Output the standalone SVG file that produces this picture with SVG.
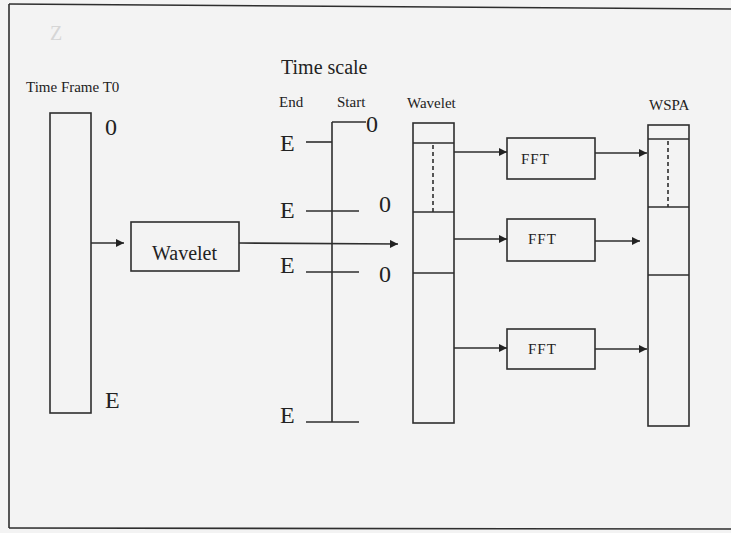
<svg xmlns="http://www.w3.org/2000/svg" width="731" height="533" viewBox="0 0 731 533">
<defs>
<style>
.ln{stroke:#2e2e2e;stroke-width:1.6;fill:none}
.bx{stroke:#2e2e2e;stroke-width:1.6;fill:none}
.dash{stroke:#2e2e2e;stroke-width:1.6;stroke-dasharray:4 3;fill:none}
.t{font-family:"Liberation Serif","Times New Roman",serif;fill:#222}
.s{font-size:15px}
.big{font-size:24px}
</style>
<marker id="ah" viewBox="0 0 10 10" refX="10" refY="5" markerWidth="9" markerHeight="8" markerUnits="userSpaceOnUse" orient="auto">
<path d="M0,0 L10,5 L0,10 Z" fill="#222"/>
</marker>
</defs>
<rect x="0" y="0" width="731" height="533" fill="#f3f3f3"/>
<g id="frame">
<line class="ln" x1="9" y1="4" x2="731" y2="9"/>
<line class="ln" x1="9" y1="4" x2="9" y2="528"/>
<line class="ln" x1="9" y1="528" x2="731" y2="529"/>
<text class="t" x="50" y="40" font-size="20" fill="#d8d8d8" style="fill:#d6d6d6">Z</text>
</g>
<g id="time-frame">
<text class="t s" x="26" y="92">Time Frame T0</text>
<rect class="bx" x="50" y="113" width="41" height="300"/>
<text class="t big" x="105" y="135">0</text>
<text class="t big" x="105" y="408">E</text>
</g>
<g id="wavelet-box">
<rect class="bx" x="131" y="222" width="108" height="49"/>
<text class="t" x="152" y="260" font-size="20">Wavelet</text>
</g>
<g id="time-scale">
<text class="t" x="281" y="74" font-size="20">Time scale</text>
<text class="t s" x="279" y="107">End</text>
<text class="t s" x="337" y="107">Start</text>
<line class="ln" x1="332" y1="122" x2="332" y2="422"/>
<line class="ln" x1="332" y1="122" x2="366" y2="122"/>
<text class="t big" x="366" y="132">0</text>
<line class="ln" x1="306" y1="142" x2="332" y2="142"/>
<text class="t big" x="280" y="151">E</text>
<line class="ln" x1="306" y1="211" x2="359" y2="211"/>
<text class="t big" x="280" y="218">E</text>
<text class="t big" x="379" y="212">0</text>
<line class="ln" x1="306" y1="272" x2="359" y2="272"/>
<text class="t big" x="280" y="273">E</text>
<text class="t big" x="379" y="282">0</text>
<line class="ln" x1="306" y1="422" x2="359" y2="422"/>
<text class="t big" x="280" y="423">E</text>
</g>
<g id="wavelet-column">
<text class="t s" x="407" y="108">Wavelet</text>
<rect class="bx" x="413" y="123" width="41" height="300"/>
<line class="ln" x1="413" y1="143" x2="454" y2="143"/>
<line class="ln" x1="413" y1="212" x2="454" y2="212"/>
<line class="ln" x1="413" y1="273" x2="454" y2="273"/>
<line class="dash" x1="433" y1="145" x2="433" y2="212"/>
</g>
<g id="fft1">
<rect class="bx" x="507" y="138" width="88" height="41"/>
<text class="t s" x="521" y="164" letter-spacing="1">FFT</text>
</g>
<g id="fft2">
<rect class="bx" x="507" y="219" width="88" height="42"/>
<text class="t s" x="528" y="244" letter-spacing="1">FFT</text>
</g>
<g id="fft3">
<rect class="bx" x="507" y="329" width="88" height="40"/>
<text class="t s" x="528" y="354" letter-spacing="1">FFT</text>
</g>
<g id="wspa">
<text class="t s" x="649" y="110">WSPA</text>
<rect class="bx" x="648" y="125" width="41" height="301"/>
<line class="ln" x1="648" y1="139" x2="689" y2="139"/>
<line class="ln" x1="648" y1="207" x2="689" y2="207"/>
<line class="ln" x1="648" y1="275" x2="689" y2="275"/>
<line class="dash" x1="668" y1="141" x2="668" y2="207"/>
</g>
<g id="connectors">
<line class="ln" x1="91" y1="243" x2="124" y2="243" marker-end="url(#ah)"/>
<line class="ln" x1="239" y1="243" x2="398" y2="244" marker-end="url(#ah)"/>
<line class="ln" x1="454" y1="152" x2="507" y2="152" marker-end="url(#ah)"/>
<line class="ln" x1="454" y1="239" x2="507" y2="239" marker-end="url(#ah)"/>
<line class="ln" x1="454" y1="348" x2="507" y2="348" marker-end="url(#ah)"/>
<line class="ln" x1="595" y1="153" x2="647" y2="153" marker-end="url(#ah)"/>
<line class="ln" x1="595" y1="241" x2="640" y2="241" marker-end="url(#ah)"/>
<line class="ln" x1="595" y1="349" x2="647" y2="349" marker-end="url(#ah)"/>
</g>
</svg>
